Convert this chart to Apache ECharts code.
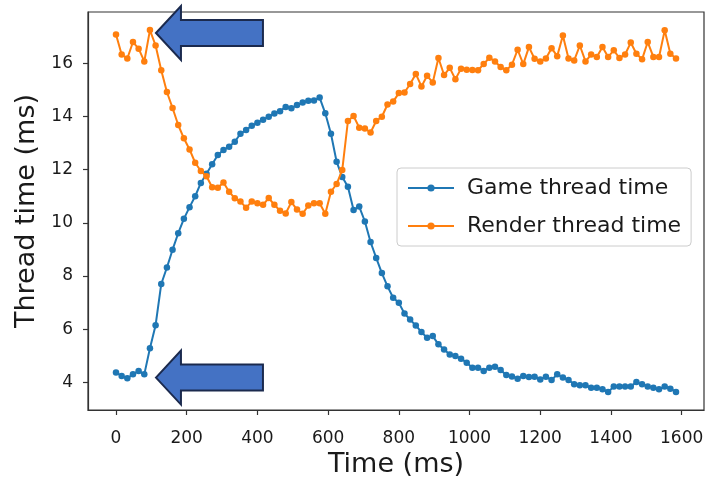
<!DOCTYPE html>
<html>
<head>
<meta charset="utf-8">
<script src="https://cdn.jsdelivr.net/npm/echarts@6/dist/echarts.min.js"></script>
<style>
  html, body { margin: 0; padding: 0; background: #fff; }
  #chart { width: 706px; height: 477px; }
</style>
</head>
<body>
<div id="chart"></div>
<script>
// Frame timestamps (ms)
const times = [
  0, 16, 32, 48, 64, 80, 96, 112, 128, 144,
  160, 176, 192, 208, 224, 240, 256, 272, 288, 304,
  320, 336, 352, 368, 384, 400, 416, 432, 448, 464,
  480, 496, 512, 528, 544, 560, 576, 592, 608, 624,
  640, 656, 672, 688, 704, 720, 736, 752, 768, 784,
  800, 816, 832, 848, 864, 880, 896, 912, 928, 944,
  960, 976, 992, 1008, 1024, 1040, 1056, 1072, 1088, 1104,
  1120, 1136, 1152, 1168, 1184, 1200, 1216, 1232, 1248, 1264,
  1280, 1296, 1312, 1328, 1344, 1360, 1376, 1392, 1408, 1424,
  1440, 1456, 1472, 1488, 1504, 1520, 1536, 1552, 1568, 1584
];

// Game thread time per frame (ms)
const gameThread = [
  4.37, 4.24, 4.15, 4.30, 4.43, 4.30, 5.28, 6.15, 7.70, 8.32,
  8.99, 9.61, 10.15, 10.59, 11.00, 11.50, 11.85, 12.20, 12.55, 12.74,
  12.86, 13.05, 13.35, 13.49, 13.65, 13.76, 13.88, 13.99, 14.11, 14.20,
  14.36, 14.31, 14.43, 14.53, 14.59, 14.60, 14.71, 14.12, 13.35, 12.30,
  11.72, 11.36, 10.48, 10.61, 10.05, 9.28, 8.68, 8.11, 7.61, 7.18,
  6.99, 6.59, 6.36, 6.14, 5.89, 5.68, 5.74, 5.43, 5.24, 5.05,
  4.99, 4.89, 4.74, 4.55, 4.55, 4.43, 4.55, 4.59, 4.46, 4.28,
  4.22, 4.14, 4.24, 4.20, 4.21, 4.11, 4.21, 4.09, 4.30, 4.18,
  4.09, 3.93, 3.89, 3.89, 3.80, 3.80, 3.74, 3.64, 3.84, 3.84,
  3.84, 3.84, 4.01, 3.93, 3.84, 3.80, 3.74, 3.84, 3.76, 3.64
];

// Render thread time per frame (ms)
const renderThread = [
  17.08, 16.33, 16.18, 16.80, 16.55, 16.07, 17.25, 16.67, 15.74, 14.92,
  14.32, 13.68, 13.18, 12.76, 12.26, 11.95, 11.75, 11.34, 11.32, 11.52,
  11.17, 10.92, 10.80, 10.57, 10.80, 10.74, 10.68, 10.93, 10.68, 10.45,
  10.35, 10.78, 10.50, 10.34, 10.65, 10.74, 10.74, 10.34, 11.17, 11.46,
  11.99, 13.83, 14.02, 13.58, 13.55, 13.40, 13.83, 13.99, 14.45, 14.56,
  14.88, 14.90, 15.22, 15.60, 15.13, 15.53, 15.28, 16.20, 15.56, 15.83,
  15.40, 15.80, 15.76, 15.75, 15.74, 15.97, 16.21, 16.07, 15.86, 15.74,
  15.95, 16.51, 15.97, 16.61, 16.17, 16.07, 16.18, 16.57, 16.27, 17.05,
  16.18, 16.11, 16.67, 16.07, 16.33, 16.24, 16.61, 16.24, 16.49, 16.20,
  16.33, 16.78, 16.36, 16.15, 16.80, 16.24, 16.24, 17.24, 16.36, 16.18
];

const xTicks = [0, 200, 400, 600, 800, 1000, 1200, 1400, 1600];
const yTicks = [4, 6, 8, 10, 12, 14, 16];

// Points the callout arrows aim at: [time, value]
const arrowTargets = [[113, 17.14], [113, 4.18]];

const FONT = 'DejaVu Sans';
const INK = '#1a1a1a';
const BLUE = '#1f77b4';
const ORANGE = '#ff7f0e';

const chart = echarts.init(document.getElementById('chart'), null, { renderer: 'canvas' });

const axisCommon = {
  type: 'value',
  axisLine: { show: true, onZero: false, lineStyle: { color: '#333', width: 1.2 } },
  axisTick: { show: true, inside: false, length: 5, lineStyle: { color: '#333', width: 1.2 } },
  splitLine: { show: false },
  axisLabel: { color: INK, fontFamily: FONT, fontSize: 17, formatter: v => String(v) },
  nameTextStyle: { color: INK, fontFamily: FONT, fontSize: 27 },
  nameLocation: 'middle'
};

function pairs(xs, ys) { return xs.map((x, i) => [x, ys[i]]); }

chart.setOption({
  animation: false,
  backgroundColor: '#fff',
  grid: {
    left: 88, right: 2, top: 12, bottom: 67,
    show: true, borderColor: '#333', borderWidth: 1.2,
    containLabel: false, outerBoundsMode: 'none'
  },
  xAxis: Object.assign({}, axisCommon, {
    min: -79.2, max: 1663.2,
    name: 'Time (ms)', nameGap: 39,
    axisTick: Object.assign({}, axisCommon.axisTick, { customValues: xTicks }),
    axisLabel: Object.assign({}, axisCommon.axisLabel, { customValues: xTicks, margin: 20 })
  }),
  yAxis: Object.assign({}, axisCommon, {
    min: 2.96, max: 17.93,
    name: 'Thread time (ms)', nameGap: 46,
    axisTick: Object.assign({}, axisCommon.axisTick, { customValues: yTicks }),
    axisLabel: Object.assign({}, axisCommon.axisLabel, { customValues: yTicks, margin: 15 })
  }),
  legend: {
    orient: 'vertical',
    left: 397, top: 168,
    padding: [8, 10, 8, 10],
    itemGap: 14,
    itemWidth: 46, itemHeight: 9,
    backgroundColor: '#fff',
    borderColor: '#cccccc', borderWidth: 1, borderRadius: 4,
    textStyle: { color: INK, fontFamily: FONT, fontSize: 22, lineHeight: 24, padding: [0, 0, 0, 8] },
    data: ['Game thread time', 'Render thread time']
  },
  series: [
    {
      name: 'Game thread time', type: 'line',
      data: pairs(times, gameThread),
      symbol: 'circle', symbolSize: 6.5, showSymbol: true,
      lineStyle: { color: BLUE, width: 2 },
      itemStyle: { color: BLUE },
      z: 2
    },
    {
      name: 'Render thread time', type: 'line',
      data: pairs(times, renderThread),
      symbol: 'circle', symbolSize: 6.5, showSymbol: true,
      lineStyle: { color: ORANGE, width: 2 },
      itemStyle: { color: ORANGE },
      z: 3
    }
  ]
});

// Left-pointing block arrows, tip anchored at a data location
function blockArrow(tip) {
  const [tx, ty] = tip;
  const headLen = 25, headHalf = 27, shaftHalf = 13, total = 107;
  return {
    type: 'polygon',
    z: 100,
    shape: {
      points: [
        [tx, ty],
        [tx + headLen, ty - headHalf],
        [tx + headLen, ty - shaftHalf],
        [tx + total, ty - shaftHalf],
        [tx + total, ty + shaftHalf],
        [tx + headLen, ty + shaftHalf],
        [tx + headLen, ty + headHalf]
      ]
    },
    style: { fill: '#4472c4', stroke: '#1b2a4e', lineWidth: 2, lineJoin: 'miter' }
  };
}

const tips = arrowTargets.map(p => chart.convertToPixel({ gridIndex: 0 }, p));
chart.setOption({ graphic: tips.map(blockArrow) });
</script>
</body>
</html>
